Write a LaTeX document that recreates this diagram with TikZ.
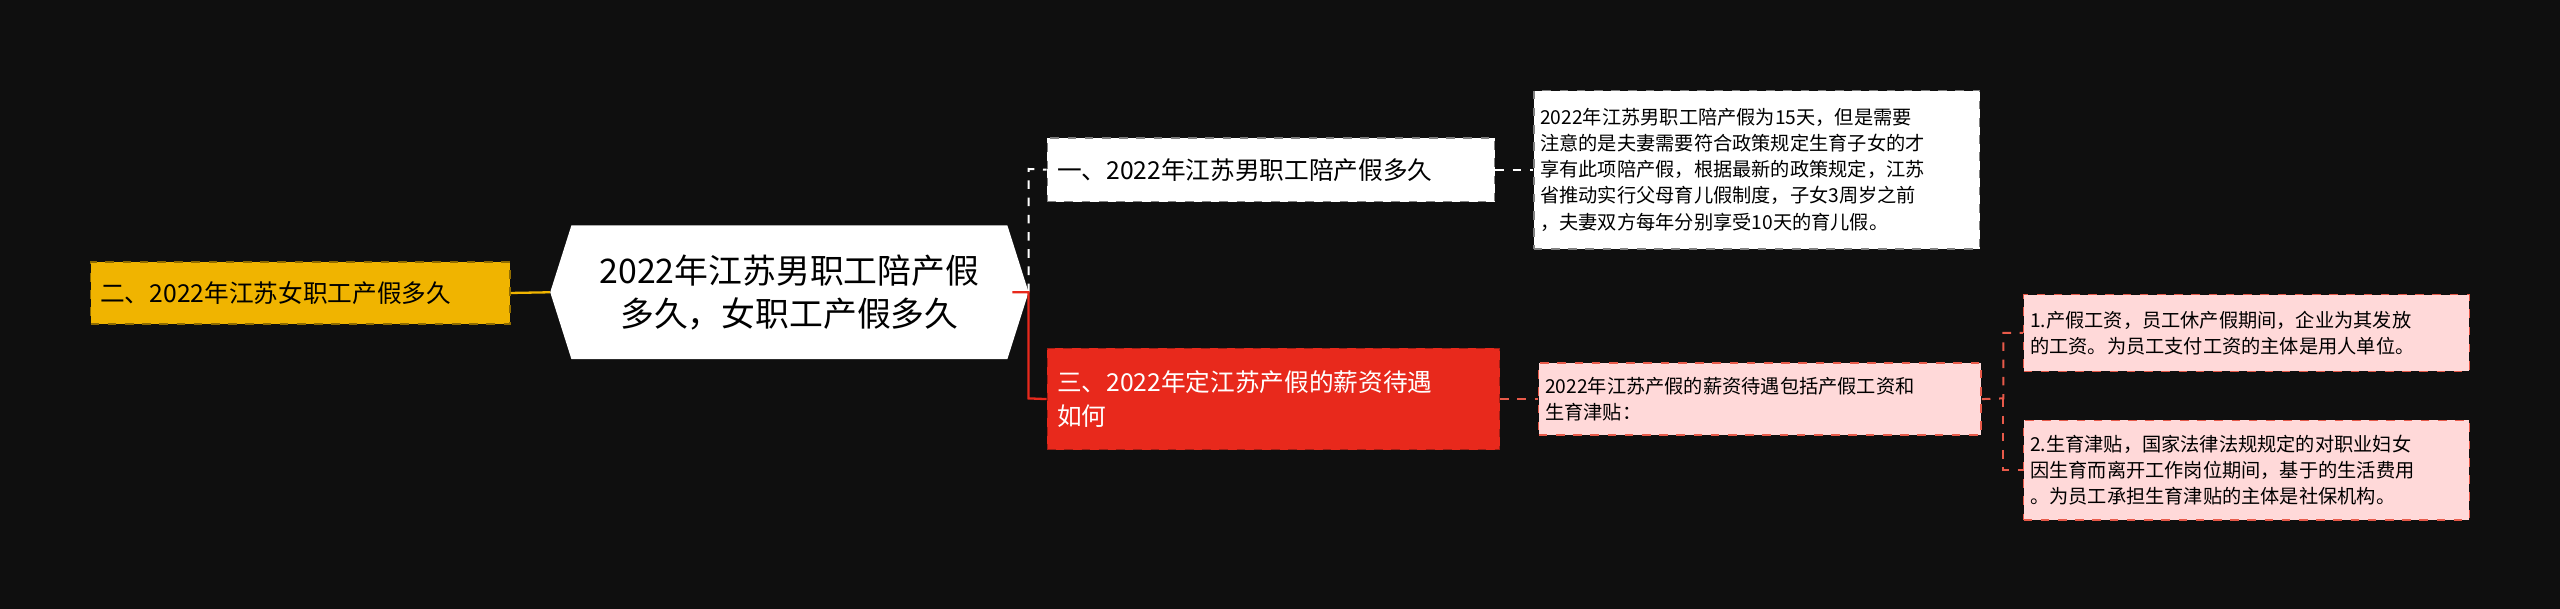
\documentclass[tikz,border=0pt]{standalone}
\usepackage{fontspec}
\setmainfont{Noto Sans CJK SC}
\definecolor{bg}{HTML}{0F0F0F}
\definecolor{yel}{HTML}{F0B400}
\definecolor{redb}{HTML}{E8291C}
\definecolor{pink}{HTML}{FFD9D9}
\definecolor{lred}{HTML}{E85A4A}
\begin{document}
\begin{tikzpicture}[x=0.02cm,y=-0.02cm,
  box/.style={draw,dashed,line width=0.5pt,inner sep=0pt,anchor=north west,align=left,font=\fontsize{8.6}{12}\selectfont},
  small/.style={draw,dashed,line width=0.5pt,inner xsep=3pt,inner ysep=0pt,anchor=north west,align=left,font=\fontsize{6.7}{9.1}\selectfont,text=black},
  wl/.style={draw=white,dashed,line width=0.7pt},
  rl/.style={draw=lred,dashed,line width=0.7pt}]
\fill[bg] (0,0) rectangle (1568,373);
\useasboundingbox (0,0) rectangle (1568,373);
% center
\fill[white] (337,179) -- (350,138) -- (617,138) -- (630,179) -- (617,220) -- (350,220) -- cycle;
\node[font=\fontsize{11.8}{15}\selectfont,align=center,text=black] (c) at (483.5,179) {2022年江苏男职工陪产假\\多久，女职工产假多久};
\coordinate (cl) at (337,179);
\coordinate (cr) at (630,179);
% left
\node[box,fill=yel,draw=yel!60!black,text=black,minimum width=257\pgflinewidth*0+257*0.02cm,minimum height=38*0.02cm,text width=245*0.02cm,inner xsep=6*0.02cm] (l) at (55,160) {二、2022年江苏女职工产假多久};
\draw[draw=yel,line width=0.8pt] (cl) -- (l.east);
% right 1
\node[box,fill=white,draw=gray,text=black,minimum width=274*0.02cm,minimum height=39*0.02cm,text width=262*0.02cm,inner xsep=6*0.02cm] (r1) at (641,84) {一、2022年江苏男职工陪产假多久};
\node[small,fill=white,draw=gray,minimum width=273*0.02cm,minimum height=97*0.02cm,text width=265*0.02cm,inner xsep=4*0.02cm] (t1) at (939,55) {2022年江苏男职工陪产假为15天，但是需要\\注意的是夫妻需要符合政策规定生育子女的才\\享有此项陪产假，根据最新的政策规定，江苏\\省推动实行父母育儿假制度，子女3周岁之前\\，夫妻双方每年分别享受10天的育儿假。};
\draw[wl] (cr) -- (630,179) -- (630,103.5) -- (r1.west);
\draw[wl] (r1.east) -- (t1.west);
% right 3
\node[box,fill=redb,draw=redb!70!black,text=white,minimum width=277*0.02cm,minimum height=62*0.02cm,text width=265*0.02cm,inner xsep=6*0.02cm] (r3) at (641,213) {三、2022年定江苏产假的薪资待遇\\如何};
\draw[draw=redb,line width=0.8pt] (620,179) -- (630,179) -- (630,244) -- (r3.west);
\node[small,fill=pink,draw=lred,minimum width=271*0.02cm,minimum height=44*0.02cm,text width=263*0.02cm,inner xsep=4*0.02cm] (t2) at (942,222) {2022年江苏产假的薪资待遇包括产假工资和\\生育津贴：};
\draw[rl] (r3.east) -- (t2.west);
\node[small,fill=pink,draw=lred,minimum width=273*0.02cm,minimum height=47*0.02cm,text width=265*0.02cm,inner xsep=4*0.02cm] (s1) at (1239,180) {1.产假工资，员工休产假期间，企业为其发放\\的工资。为员工支付工资的主体是用人单位。};
\node[small,fill=pink,draw=lred,minimum width=273*0.02cm,minimum height=61*0.02cm,text width=265*0.02cm,inner xsep=4*0.02cm] (s2) at (1239,257) {2.生育津贴，国家法律法规规定的对职业妇女\\因生育而离开工作岗位期间，基于的生活费用\\。为员工承担生育津贴的主体是社保机构。};
\draw[rl] (t2.east) -- (1227,244) |- (s1.west);
\draw[rl] (1227,244) |- (s2.west);
\end{tikzpicture}
\end{document}
